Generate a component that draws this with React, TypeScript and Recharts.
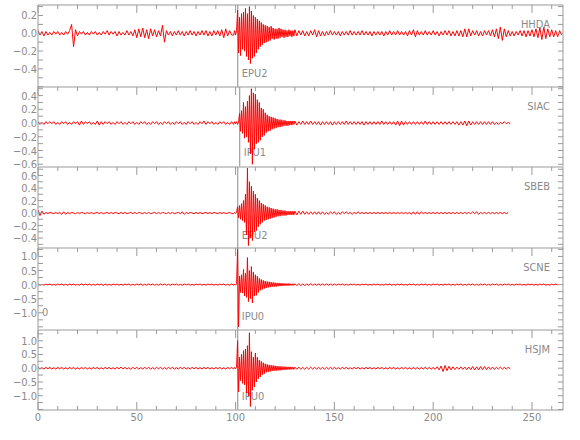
import { Line, LineChart, ReferenceLine, XAxis, YAxis } from "recharts";

// Seismograms, amplitudes in units of 0.01.
// *_PRE: t = 0..98 s (1 s step), *_EVT: t = 99..130 s (0.5 s step), *_POST: t = 131.. s (1 s step)
const HHDA_PRE = [
  3, -2, 2, -3, 2, -2, 1, -2, 2, -1,
  2, -2, 1, -2, 2, -1, 3, 10, -15, 4,
  -3, 2, -1, 2, -2, 1, -2, 2, -1, 2,
  -2, 1, -2, 2, -1, 3, -2, 2, -1, 2,
  -3, 2, -2, 1, -2, 3, -2, 2, -3, 4,
  -5, 5, -4, 6, -5, 4, -6, 5, -3, 4,
  -4, 3, -3, 9, -10, 3, -2, 2, -3, 2,
  -2, 3, -2, 2, -3, 2, -2, 3, -2, 2,
  -3, 2, -2, 3, -2, 3, -3, 2, -3, 3,
  -2, 3, -3, 4, -5, 5, -3, 3, -2,
];
const HHDA_EVT = [
  -2, 3, -2, 3, 26, -22, 18, -25, 22, -18, 24, -20, 28, -26, 22, -30,
  30, -34, 25, -28, 20, -26, 18, -22, 16, -18, 14, -15, 12, -13, 10, -11,
  9, -10, 8, -9, 7, -8, 8, -6, 6, -7, 5, -6, 5, -6, 6, -5,
  5, -4, 4, -5, 4, -4, 3, -4, 4, -3, 3, -4, 3, -3, 4,
];
const HHDA_POST = [
  -3, 3, -2, 3, -3, 2, -3, 3, -2, 4,
  -4, 3, -3, 2, -3, 2, -2, 3, -2, 2,
  -2, 2, -3, 2, -2, 2, -2, 3, -2, 2,
  -2, 2, -2, 3, -2, 2, -2, 2, -3, 2,
  -2, 2, -2, 2, -3, 2, -2, 3, -2, 2,
  -2, 3, -2, 2, -2, 2, -3, 3, -2, 4,
  -4, 3, -2, 2, -2, 3, -2, 2, -2, 3,
  -2, 2, -3, 2, -2, 3, -2, 3, -3, 2,
  -3, 3, -3, 3, -4, 5, -4, 5, -3, 3,
  -2, 3, -3, 2, -3, 3, -2, 3, -3, 4,
  -4, 5, -6, 7, -8, 5, -4, 3, -3, 2,
  -3, 2, -2, 3, -3, 3, -4, 3, -3, 4,
  -4, 5, -5, 6, -7, 7, -6, 5, -4, 4,
  -4, 3, -4, 3, -2,
];

const SIAC_PRE = [
  2, -2, 1, -2, 2, -1, 2, -1, 2, -2,
  1, -2, 2, -1, 2, -2, 1, -2, 2, -1,
  2, -3, 3, -2, 2, -1, 2, -2, 1, -2,
  3, -3, 2, -2, 2, -1, 2, -2, 1, -2,
  2, -1, 2, -2, 1, -2, 2, -1, 2, -2,
  1, -2, 2, -1, 2, -2, 1, -2, 2, -1,
  2, -2, 1, -2, 2, -1, 2, -2, 1, -2,
  2, -1, 2, -2, 1, -2, 2, -1, 2, -2,
  1, -2, 2, -1, 3, -2, 2, -1, 2, -2,
  1, -2, 2, -1, 2, -2, 1, -2, 2,
];
const SIAC_EVT = [
  -2, 2, -1, 2, -2, 1, 14, -12, 18, -15, 30, -22, 24, -20, 32, -28,
  40, -45, 50, -60, 44, -38, 42, -30, 34, -28, 30, -25, 22, -20, 20, -18,
  15, -14, 12, -12, 10, -11, 9, -9, 8, -8, 7, -7, 6, -6, 5, -6,
  5, -5, 4, -4, 4, -4, 3, -4, 3, -3, 3, -3, 3, -2, 3,
];
const SIAC_POST = [
  -3, 2, -2, 3, -2, 2, -2, 3, -2, 2,
  -2, 2, -3, 2, -2, 2, -2, 2, -3, 2,
  -2, 2, -2, 2, -2, 3, -2, 2, -2, 2,
  -2, 2, -2, 2, -3, 2, -2, 2, -2, 2,
  -2, 2, -2, 3, -2, 2, -2, 2, -2, 2,
  -3, 3, -4, 3, -3, 2, -2, 2, -2, 2,
  -2, 2, -2, 2, -2, 3, -2, 2, -2, 2,
  -2, 2, -2, 2, -2, 2, -2, 2, -2, 2,
  -2, 2, -3, 2, -3, 3, -4, 3, -3, 2,
  -2, 2, -2, 2, -2, 2, -2, 2, -2, 2,
  -2, 1, -2, 1, -1, 2, -1, 1, -1,
];

const SBEB_PRE = [
  5, -4, 3, -2, 1, -1, 1, 0, -1, 1,
  -1, 1, -2, 2, -2, 1, -1, 1, 0, -1,
  1, -1, 1, 0, -1, 1, -1, 1, -1, 0,
  1, -1, 1, -1, 0, 1, -1, 1, -1, 1,
  0, -1, 1, -1, 1, -1, 0, 1, -1, 1,
  -1, 1, 0, -1, 1, -1, 1, -1, 0, 1,
  -1, 1, -1, 1, 0, -1, 1, -1, 1, -1,
  0, 1, -1, 2, -2, 1, -1, 1, 0, -1,
  1, -1, 1, -1, 0, 1, -1, 1, -1, 1,
  0, -1, 1, -1, 1, -1, 0, 1, -1,
];
const SBEB_EVT = [
  -1, 1, -1, 1, 10, -8, 12, -10, 15, -12, 20, -15, 30, -35, 72, -52,
  50, -40, 43, -44, 35, -30, 30, -28, 24, -22, 20, -18, 16, -15, 14, -12,
  12, -11, 10, -10, 9, -9, 8, -8, 7, -7, 6, -6, 6, -5, 5, -5,
  5, -4, 4, -4, 4, -4, 3, -3, 3, -3, 3, -3, 3, -3, 3,
];
const SBEB_POST = [
  -3, 3, -2, 3, -2, 2, -2, 2, -2, 2,
  -2, 2, -2, 2, -2, 1, -2, 2, -1, 2,
  -2, 1, -2, 2, -1, 2, -1, 1, -2, 1,
  -1, 2, -1, 1, -1, 1, -1, 1, -1, 1,
  -1, 1, -1, 1, -1, 1, -1, 1, -1, 1,
  -1, 1, -1, 1, -1, 1, -1, 1, -2, 2,
  -2, 2, -2, 2, -1, 1, -1, 1, -1, 1,
  -1, 1, -1, 1, -1, 1, -1, 1, -1, 1,
  -1, 1, -1, 1, -1, 1, -1, 1, -1, 2,
  -1, 2, -2, 1, -1, 1, -1, 1, -1, 1,
  -1, 1, -1, 1, -1, 1, -1, 1,
];

const SCNE_PRE = [
  2, -2, 1, -2, 2, -1, 2, -2, 1, -2,
  2, -1, 2, -2, 1, -2, 2, -1, 2, -2,
  1, -2, 3, -2, 2, -1, 2, -2, 1, -2,
  2, -1, 2, -3, 2, -2, 1, -2, 2, -1,
  2, -2, 1, -2, 2, -1, 2, -2, 1, -2,
  2, -1, 2, -2, 1, -2, 2, -1, 2, -2,
  1, -2, 2, -1, 2, -2, 1, -2, 2, -1,
  2, -2, 1, -2, 2, -1, 2, -2, 1, -2,
  2, -1, 2, -2, 1, -2, 2, -1, 2, -2,
  1, -2, 2, -1, 2, -2, 1, -2, 2,
];
const SCNE_EVT = [
  -2, 2, -2, 3, 125, -150, 30, -28, 35, -30, 54, -40, 40, -45, 96, -60,
  50, -50, 64, -65, 45, -40, 35, -38, 30, -28, 22, -20, 18, -17, 15, -14,
  13, -12, 11, -10, 10, -9, 9, -8, 8, -7, 7, -7, 6, -6, 6, -5,
  5, -5, 5, -4, 4, -4, 4, -4, 4, -3, 3, -3, 3, -3, 3,
];
const SCNE_POST = [
  -3, 3, -3, 2, -3, 2, -2, 3, -2, 2,
  -2, 2, -2, 2, -2, 2, -2, 2, -2, 2,
  -2, 2, -1, 2, -2, 1, -2, 2, -1, 2,
  -2, 1, -2, 2, -1, 2, -2, 1, -2, 2,
  -1, 2, -2, 1, -2, 2, -1, 2, -2, 1,
  -2, 2, -1, 2, -2, 1, -2, 2, -1, 2,
  -2, 1, -2, 2, -1, 2, -2, 1, -2, 2,
  -1, 2, -2, 1, -2, 2, -1, 2, -2, 1,
  -2, 2, -1, 2, -2, 1, -2, 2, -1, 2,
  -2, 1, -2, 2, -1, 2, -2, 1, -2, 2,
  -1, 2, -2, 1, -2, 2, -1, 2, -2, 1,
  -2, 2, -1, 2, -2, 1, -2, 2, -1, 2,
  -2, 1, -2, 2, -1, 2, -2, 1, -2, 2,
  -1, 2, -1,
];

const HSJM_PRE = [
  3, -3, 2, -3, 3, -2, 3, -3, 2, -3,
  3, -2, 3, -3, 2, -3, 3, -2, 3, -3,
  2, -3, 3, -2, 3, -3, 2, -3, 3, -2,
  3, -3, 2, -3, 3, -2, 3, -3, 2, -3,
  3, -2, 4, -3, 3, -3, 2, -4, 3, -2,
  3, -3, 2, -3, 3, -2, 3, -3, 2, -3,
  3, -2, 3, -3, 2, -3, 3, -2, 3, -3,
  2, -3, 3, -2, 3, -3, 2, -3, 3, -2,
  3, -3, 2, -3, 3, -2, 3, -3, 2, -3,
  3, -2, 3, -3, 2, -3, 3, -2, 3,
];
const HSJM_EVT = [
  -3, 3, -2, 3, 100, -86, 40, -45, 50, -55, 64, -60, 70, -90, 82, -100,
  129, -139, 60, -80, 40, -68, 55, -50, 40, -38, 30, -32, 25, -24, 20, -20,
  16, -15, 14, -13, 12, -12, 11, -10, 10, -9, 9, -9, 8, -8, 7, -8,
  7, -7, 6, -6, 6, -6, 5, -5, 5, -5, 5, -4, 4, -4, 4,
];
const HSJM_POST = [
  -4, 4, -4, 3, -4, 3, -3, 4, -3, 3,
  -3, 3, -3, 3, -3, 3, -3, 3, -3, 3,
  -3, 2, -3, 3, -2, 3, -3, 2, -3, 3,
  -2, 3, -3, 2, -3, 3, -2, 3, -3, 2,
  -3, 3, -2, 3, -3, 2, -3, 3, -2, 3,
  -3, 2, -3, 3, -2, 3, -3, 2, -3, 3,
  -3, 3, -4, 3, -3, 4, -3, 3, -4, 3,
  -4, 5, -6, 8, -12, 10, -9, 7, -6, 5,
  -5, 4, -4, 5, -4, 4, -5, 4, -5, 6,
  -6, 5, -6, 6, -5, 6, -5, 5, -4, 4,
  -4, 3, -3, 4, -3, 3, -3, 3, -2,
];

const STATIONS = ["HHDA", "SIAC", "SBEB", "SCNE", "HSJM"];
const PICK_LABELS = ["EPU2", "IPU1", "EPU2", "IPU0", "IPU0"];
const PICK_TIMES = [101.1, 102.1, 101.1, 101.1, 101.1];
const Y_DOMAINS: [number, number][] = [
  [-0.607, 0.318],
  [-0.63, 0.525],
  [-0.57, 0.736],
  [-1.6, 1.3],
  [-1.52, 1.39],
];
const Y_TICKS = [
  [-0.6, -0.5, -0.4, -0.3, -0.2, -0.1, 0, 0.1, 0.2, 0.3],
  [-0.6, -0.5, -0.4, -0.3, -0.2, -0.1, 0, 0.1, 0.2, 0.3, 0.4, 0.5],
  [-0.5, -0.4, -0.3, -0.2, -0.1, 0, 0.1, 0.2, 0.3, 0.4, 0.5, 0.6, 0.7],
  [-1.5, -1.25, -1, -0.75, -0.5, -0.25, 0, 0.25, 0.5, 0.75, 1, 1.25],
  [-1.5, -1.25, -1, -0.75, -0.5, -0.25, 0, 0.25, 0.5, 0.75, 1, 1.25],
];
const Y_LABELS = [
  [-0.4, -0.2, 0, 0.2],
  [-0.6, -0.4, -0.2, 0, 0.2, 0.4],
  [-0.4, -0.2, 0, 0.2, 0.4, 0.6],
  [-1, -0.5, 0, 0.5, 1],
  [-1, -0.5, 0, 0.5, 1],
];
const TIME_DOMAIN: [number, number] = [0, 265.7];
const TIME_TICKS = [0, 10, 20, 30, 40, 50, 60, 70, 80, 90, 100, 110, 120, 130, 140, 150, 160, 170, 180, 190, 200, 210, 220, 230, 240, 250, 260];
const TIME_LABELS = [0, 50, 100, 150, 200, 250];

const TRACES = [
  [HHDA_PRE, HHDA_EVT, HHDA_POST],
  [SIAC_PRE, SIAC_EVT, SIAC_POST],
  [SBEB_PRE, SBEB_EVT, SBEB_POST],
  [SCNE_PRE, SCNE_EVT, SCNE_POST],
  [HSJM_PRE, HSJM_EVT, HSJM_POST],
];

// layout
const W = 580;
const PAD = 20;
const BOUNDS = [5, 87.3, 166.6, 248.3, 330, 410];
const AXIS = "#9a9a9a";
const TEXT = "#8a8a8a";
const FONT = "'Liberation Sans Narrow', 'DejaVu Sans Condensed', sans-serif";
const FS = 11;

function buildTrace([pre, evt, post]: number[][]) {
  const pts: { t: number; v: number }[] = [];
  pre.forEach((v, i) => pts.push({ t: i, v: v / 100 }));
  evt.forEach((v, i) => pts.push({ t: 99 + i * 0.5, v: v / 100 }));
  post.forEach((v, i) => pts.push({ t: 131 + i, v: v / 100 }));
  return pts;
}

const fmt = (v: number) => {
  const s = Math.abs(v).toFixed(1);
  return v < -1e-9 ? `\u2212${s}` : s;
};

function TopTick({ x, y, payload }: any) {
  const len = payload.value % 50 === 0 ? 8 : 4;
  return <line x1={x} x2={x} y1={y} y2={y + len} stroke={AXIS} />;
}

function BottomTick({ x, y, payload }: any) {
  const major = payload.value % 50 === 0;
  return (
    <g>
      <line x1={x} x2={x} y1={y} y2={y - (major ? 8 : 4)} stroke={AXIS} />
      {TIME_LABELS.includes(payload.value) && (
        <text x={x} y={y + 11} textAnchor="middle" fontSize={FS} fill={TEXT} fontFamily={FONT}>
          {payload.value}
        </text>
      )}
    </g>
  );
}

function LeftTick({ x, y, payload, labels }: any) {
  const labeled = labels.some((l: number) => Math.abs(l - payload.value) < 1e-6);
  return (
    <g>
      <line x1={x} x2={x + 5} y1={y} y2={y} stroke={AXIS} />
      {labeled && (
        <text x={x - 1} y={y + 4} textAnchor="end" fontSize={FS} fill={TEXT} fontFamily={FONT}>
          {fmt(payload.value)}
        </text>
      )}
    </g>
  );
}

function RightTick({ x, y }: any) {
  return <line x1={x} x2={x - 5} y1={y} y2={y} stroke={AXIS} />;
}

function Panel({ index }: { index: number }) {
  const top = BOUNDS[index];
  const h = BOUNDS[index + 1] - top;
  const isLast = index === TRACES.length - 1;
  const data = buildTrace(TRACES[index]);
  return (
    <div style={{ position: "absolute", left: 0, top: top - PAD }}>
      <LineChart
        width={W}
        height={h + 2 * PAD}
        data={data}
        margin={{ top: PAD - 1, right: 0, bottom: isLast ? PAD - 1 : PAD, left: 0 }}
      >
        <XAxis
          xAxisId="top"
          orientation="top"
          type="number"
          dataKey="t"
          domain={TIME_DOMAIN}
          allowDataOverflow
          ticks={TIME_TICKS}
          interval={0}
          height={1}
          tickSize={0}
          tickMargin={0}
          tickLine={false}
          axisLine={{ stroke: AXIS }}
          tick={(p: any) => <TopTick {...p} />}
        />
        {isLast && (
          <XAxis
            xAxisId="bottom"
            orientation="bottom"
            type="number"
            dataKey="t"
            domain={TIME_DOMAIN}
            allowDataOverflow
            ticks={TIME_TICKS}
            interval={0}
            height={1}
            tickSize={0}
            tickMargin={0}
            tickLine={false}
            axisLine={{ stroke: AXIS }}
            tick={(p: any) => <BottomTick {...p} />}
          />
        )}
        <YAxis
          yAxisId="left"
          type="number"
          domain={Y_DOMAINS[index]}
          allowDataOverflow
          ticks={Y_TICKS[index]}
          interval={0}
          width={38}
          tickSize={0}
          tickMargin={0}
          tickLine={false}
          axisLine={{ stroke: AXIS }}
          tick={(p: any) => <LeftTick {...p} labels={Y_LABELS[index]} />}
        />
        <YAxis
          yAxisId="right"
          orientation="right"
          type="number"
          domain={Y_DOMAINS[index]}
          allowDataOverflow
          ticks={Y_TICKS[index]}
          interval={0}
          width={17}
          tickSize={0}
          tickMargin={0}
          tickLine={false}
          axisLine={{ stroke: AXIS }}
          tick={(p: any) => <RightTick {...p} />}
        />
        <ReferenceLine
          xAxisId="top"
          yAxisId="left"
          x={PICK_TIMES[index]}
          stroke="#8a8a8a"
          strokeWidth={1}
          label={(p: any) => (
            <text x={(p.viewBox?.x ?? 0) + 4} y={PAD + h - 10} fontSize={FS} fill={TEXT} fontFamily={FONT}>
              {PICK_LABELS[index]}
            </text>
          )}
        />
        <Line
          xAxisId="top"
          yAxisId="left"
          type="linear"
          dataKey="v"
          stroke="#ff0000"
          strokeWidth={1}
          dot={false}
          activeDot={false}
          isAnimationActive={false}
        />
      </LineChart>
    </div>
  );
}

export default function App() {
  return (
    <div style={{ position: "absolute", left: 0, top: 0, width: W, height: 440, background: "#fff", overflow: "hidden" }}>
      {STATIONS.map((_, i) => (
        <Panel key={i} index={i} />
      ))}
      {STATIONS.map((s, i) => (
        <div
          key={s}
          style={{
            position: "absolute",
            right: 30,
            top: BOUNDS[i] + 14,
            fontSize: FS,
            lineHeight: "12px",
            color: TEXT,
            fontFamily: FONT,
          }}
        >
          {s}
        </div>
      ))}
      <div
        style={{
          position: "absolute",
          left: 42,
          top: 307,
          fontSize: FS,
          lineHeight: "12px",
          color: TEXT,
          fontFamily: FONT,
        }}
      >
        0
      </div>
    </div>
  );
}
